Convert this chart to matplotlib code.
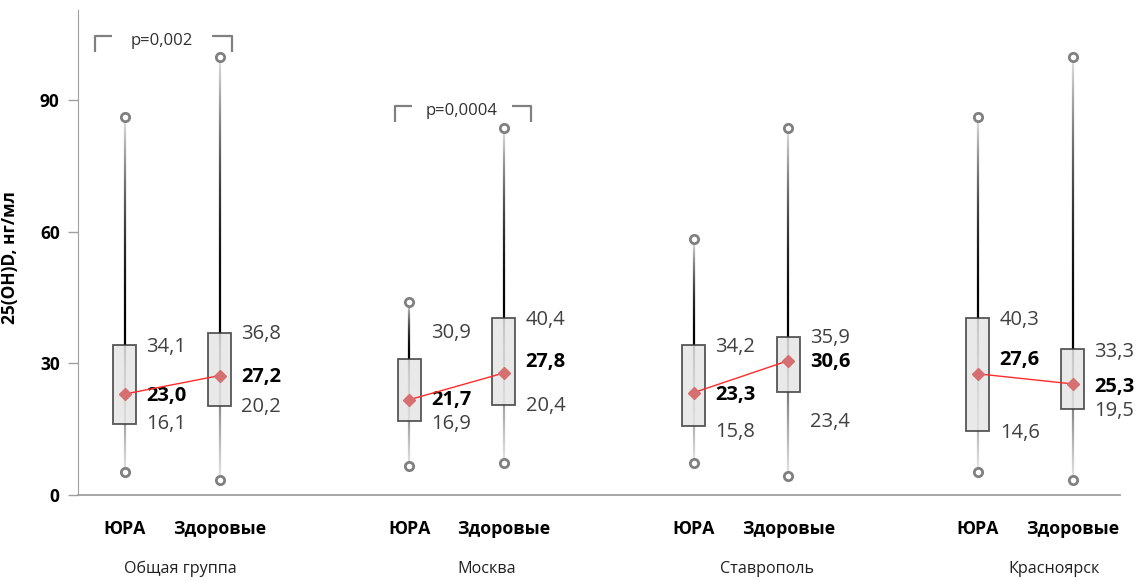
import numpy as np
import matplotlib.pyplot as plt
from matplotlib.collections import LineCollection

plt.rcParams['font.family'] = ['Open Sans', 'DejaVu Sans']

groups = ['Общая группа', 'Москва', 'Ставрополь', 'Красноярск']
series = ['ЮРА', 'Здоровые']

# per box, order: group1 ЮРА, group1 Здоровые, group2 ЮРА, ...
q1 = [16.1, 20.2, 16.9, 20.4, 15.8, 23.4, 14.6, 19.5]
q3 = [34.1, 36.8, 30.9, 40.4, 34.2, 35.9, 40.3, 33.3]
means = [23.0, 27.2, 21.7, 27.8, 23.3, 30.6, 27.6, 25.3]
mins = [5.2, 3.4, 6.6, 7.3, 7.3, 4.3, 5.2, 3.4]
maxs = [86.1, 99.8, 44.0, 83.6, 58.3, 83.6, 86.1, 99.8]

pvals = ['p=0,002', 'p=0,0004']

# layout: x of each box, where the value labels sit, bracket geometry
xpos = [0, 1, 3, 4, 6, 7, 9, 10]
label_y = [(33.7, 22.6, 16.2), (36.7, 26.9, 20.0), (36.9, 21.6, 16.2), (39.9, 30.3, 20.3),
           (33.7, 22.8, 14.4), (35.8, 30.3, 16.6), (39.9, 30.7, 14.1), (32.6, 24.6, 19.1)]
group_x = [0.59, 3.82, 6.77, 9.80]
brackets = [(-0.316, 1.13, -0.137, 0.918, 0.39, 104.6, 101.0),
            (2.85, 4.29, 3.03, 4.08, 3.55, 88.6, 85.0)]


def fmt(v):
    return f'{v:.1f}'.replace('.', ',')


fig = plt.figure(figsize=(11.43, 5.81), dpi=100)
ax = fig.add_axes([0.068, 0.148, 0.912, 0.835])

box_w = 0.243
for i, x in enumerate(xpos):
    # whisker line, darkest at the top of the box, fading to both ends
    ys = np.linspace(mins[i], maxs[i], 300)
    segs = [[(x, ys[k]), (x, ys[k + 1])] for k in range(len(ys) - 1)]
    cols = []
    for k in range(len(ys) - 1):
        y = (ys[k] + ys[k + 1]) / 2
        if y >= q3[i]:
            t = (y - q3[i]) / (maxs[i] - q3[i])
            g = 0.9 * t ** 2
        else:
            t = (q3[i] - y) / (q3[i] - mins[i])
            g = 0.9 * t ** 0.7
        cols.append((g, g, g))
    ax.add_collection(LineCollection(segs, colors=cols, linewidths=1.6, zorder=2))

    ax.bar(x, q3[i] - q1[i], bottom=q1[i], width=box_w, color='#e6e6e6', alpha=0.85,
           edgecolor='#3a3a3a', linewidth=1.3, zorder=3)
    ax.plot([x, x], [mins[i], maxs[i]], ls='none', marker='o', ms=6, mfc='white',
            mec='#808080', mew=2, zorder=4)

    ly = label_y[i]
    tx = x + 0.23
    ax.text(tx, ly[0], fmt(q3[i]), fontsize=14.5, color='#404040', va='center', ha='left')
    ax.text(tx, ly[1], fmt(means[i]), fontsize=14.5, color='black', fontweight='bold',
            va='center', ha='left')
    ax.text(tx, ly[2], fmt(q1[i]), fontsize=14.5, color='#404040', va='center', ha='left')

# mean markers and the line joining each pair
for g in range(len(groups)):
    xs = xpos[2 * g:2 * g + 2]
    ms = means[2 * g:2 * g + 2]
    ax.plot(xs, ms, color='#ff2a2a', lw=1.0, zorder=5)
    ax.plot(xs, ms, ls='none', marker='D', ms=6.5, color='#d67070', zorder=6)

# significance brackets
for (x0, x1, g0, g1, xt, ytop, ybot), p in zip(brackets, pvals):
    kw = dict(color='#808080', lw=1.6, solid_capstyle='butt', zorder=5)
    ax.plot([x0, x0, g0], [ybot, ytop, ytop], **kw)
    ax.plot([g1, x1, x1], [ytop, ytop, ybot], **kw)
    ax.text(xt, ytop - 1.1, p, fontsize=12, color='#303030', ha='center', va='center')

ax.set_xlim(-0.496, 10.5)
ax.set_ylim(0, 110.5)

ax.set_xticks(xpos)
ax.set_xticklabels(series * len(groups), fontweight='bold', fontsize=12.8)
ax.tick_params(axis='x', length=0, pad=18)
for gx, name in zip(group_x, groups):
    ax.text(gx, -0.153, name, transform=ax.get_xaxis_transform(), fontsize=11.6,
            ha='center', va='center', color='#202020')

ax.set_yticks([0, 30, 60, 90])
ax.set_yticklabels(['0', '30', '60', '90'], fontweight='bold', fontsize=12.5)
ax.tick_params(axis='y', length=7, width=1, color='#a0a0a0', pad=6)
ax.set_ylabel('25(OH)D, нг/мл', fontweight='bold', fontsize=12.5)
ax.yaxis.set_label_coords(-0.056, 0.49)

for s in ['top', 'right']:
    ax.spines[s].set_visible(False)
ax.spines['left'].set_color('#a0a0a0')
ax.spines['bottom'].set_color('#a0a0a0')
ax.spines['bottom'].set_linewidth(1.3)

fig.savefig('out.png', dpi=100)
